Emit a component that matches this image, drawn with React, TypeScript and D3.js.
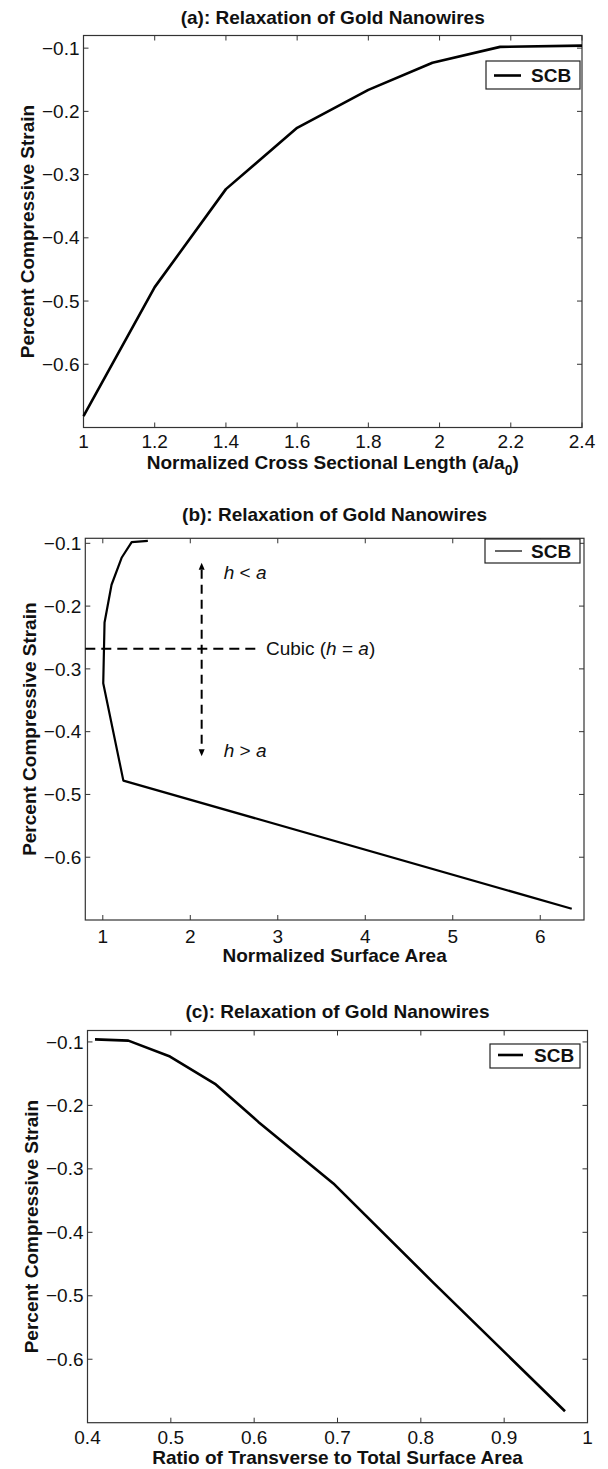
import React from 'react';
import * as d3 from 'd3';

// one SCB series, plotted against three different x quantities
const crossSection = [1, 1.2, 1.4, 1.6, 1.8, 1.98, 2.17, 2.4];
const strain = [-0.682, -0.478, -0.323, -0.226, -0.166, -0.123, -0.098, -0.096];
const surfaceArea = [6.36, 1.235, 1.005, 1.02, 1.1, 1.215, 1.33, 1.515];
const transverseRatio = [0.973, 0.814, 0.695, 0.605, 0.553, 0.499, 0.449, 0.409];

const ticksA = [1, 1.2, 1.4, 1.6, 1.8, 2, 2.2, 2.4];
const ticksB = [1, 2, 3, 4, 5, 6];
const ticksC = [0.4, 0.5, 0.6, 0.7, 0.8, 0.9, 1];
const strainTicks = [-0.6, -0.5, -0.4, -0.3, -0.2, -0.1];

// panel (b) annotations, in data units
const cubicStrain = -0.268;
const cubicEnd = 2.75;
const arrowX = 2.13;
const arrowTop = -0.131;
const arrowBottom = -0.439;

const FONT = '"Liberation Sans", Arial, Helvetica, sans-serif';
const FS = 19;

const fmt = (v: number) => String(+v.toFixed(2)).replace('-', '\u2212');

type Box = { left: number; right: number; top: number; bottom: number };
type Legend = { x: number; y: number; w: number; h: number; ly: number; lx0: number; lx1: number; tx: number; lw: number };

type PanelProps = {
  box: Box;
  title: string;
  titleY: number;
  xLabel: React.ReactNode;
  xLabelDy: number;
  xTickDy: number;
  yLabelX: number;
  xDomain: [number, number];
  yDomain: [number, number];
  xTicks: number[];
  xs: number[];
  ys: number[];
  lineWidth: number;
  legend: Legend;
  extra?: (x: d3.ScaleLinear<number, number>, y: d3.ScaleLinear<number, number>) => React.ReactNode;
};

function Panel(p: PanelProps) {
  const { box } = p;
  const x = d3.scaleLinear().domain(p.xDomain).range([box.left, box.right]);
  const y = d3.scaleLinear().domain(p.yDomain).range([box.bottom, box.top]);
  const line = d3.line<number>()
    .x((_, i) => x(p.xs[i]))
    .y(d => y(d));
  const tl = 5;
  const axisColor = '#333';
  const cx = (box.left + box.right) / 2;
  const cy = (box.top + box.bottom) / 2;
  const lg = p.legend;

  return (
    <g fontFamily={FONT} fontSize={FS} fill="#111">
      <text x={cx} y={p.titleY} dy="0.35em" textAnchor="middle" fontWeight="bold">{p.title}</text>

      {p.xTicks.map(t => (
        <g key={'x' + t} stroke={axisColor} strokeWidth={1}>
          <line x1={x(t)} x2={x(t)} y1={box.bottom} y2={box.bottom - tl} />
          <line x1={x(t)} x2={x(t)} y1={box.top} y2={box.top + tl} />
        </g>
      ))}
      {strainTicks.map(t => (
        <g key={'y' + t} stroke={axisColor} strokeWidth={1}>
          <line x1={box.left} x2={box.left + tl} y1={y(t)} y2={y(t)} />
          <line x1={box.right} x2={box.right - tl} y1={y(t)} y2={y(t)} />
        </g>
      ))}
      <rect x={box.left} y={box.top} width={box.right - box.left} height={box.bottom - box.top}
        fill="none" stroke={axisColor} strokeWidth={1.2} />

      {p.xTicks.map(t => (
        <text key={'xl' + t} x={x(t)} y={box.bottom + p.xTickDy} dy="0.35em" textAnchor="middle">{fmt(t)}</text>
      ))}
      {strainTicks.map(t => (
        <text key={'yl' + t} x={box.left - 4} y={y(t)} dy="0.35em" textAnchor="end">{fmt(t)}</text>
      ))}

      <text x={cx} y={box.bottom + p.xLabelDy} dy="0.35em" textAnchor="middle" fontWeight="bold">{p.xLabel}</text>
      <text transform={`translate(${p.yLabelX},${cy}) rotate(-90)`} dy="0.35em" textAnchor="middle" fontWeight="bold">
        Percent Compressive Strain
      </text>

      {p.extra && p.extra(x, y)}

      <path d={line(p.ys) || ''} fill="none" stroke="#000" strokeWidth={p.lineWidth} strokeLinejoin="round" />

      <rect x={lg.x} y={lg.y} width={lg.w} height={lg.h} fill="#fff" stroke="#222" strokeWidth={1.2} />
      <line x1={lg.lx0} x2={lg.lx1} y1={lg.ly} y2={lg.ly} stroke="#000" strokeWidth={lg.lw} />
      <text x={lg.tx} y={lg.ly} dy="0.35em" fontWeight="bold">SCB</text>
    </g>
  );
}

function cubicAnnotations(x: d3.ScaleLinear<number, number>, y: d3.ScaleLinear<number, number>) {
  const ax = x(arrowX);
  const yTop = y(arrowTop);
  const yBot = y(arrowBottom);
  const yc = y(cubicStrain);
  const ah = 7;
  const aw = 3;
  return (
    <g>
      <line x1={x.range()[0]} x2={x(cubicEnd)} y1={yc} y2={yc} stroke="#000" strokeWidth={2} strokeDasharray="10,6" />
      <line x1={ax} x2={ax} y1={yTop + ah} y2={yBot - ah} stroke="#000" strokeWidth={2} strokeDasharray="9,6" />
      <path d={`M${ax},${yTop} L${ax - aw},${yTop + ah} L${ax + aw},${yTop + ah} Z`} fill="#000" />
      <path d={`M${ax},${yBot} L${ax - aw},${yBot - ah} L${ax + aw},${yBot - ah} Z`} fill="#000" />
      <text x={ax + 22} y={y(-0.146)} dy="0.35em">
        <tspan fontStyle="italic">h</tspan> &lt; <tspan fontStyle="italic">a</tspan>
      </text>
      <text x={ax + 22} y={y(-0.43)} dy="0.35em">
        <tspan fontStyle="italic">h</tspan> &gt; <tspan fontStyle="italic">a</tspan>
      </text>
      <text x={x(cubicEnd) + 10} y={yc} dy="0.35em">
        Cubic (<tspan fontStyle="italic">h</tspan> = <tspan fontStyle="italic">a</tspan>)
      </text>
    </g>
  );
}

export default function App() {
  return (
    <svg width={608} height={1469} style={{ position: 'absolute', left: 0, top: 0, background: '#fff' }}>
      <Panel
        box={{ left: 83.5, right: 582, top: 35.5, bottom: 427.5 }}
        title="(a):  Relaxation of Gold Nanowires"
        titleY={17.5}
        xLabel={<>
          <tspan>Normalized Cross Sectional Length (a/a</tspan>
          <tspan dy={6} fontSize={14}>0</tspan>
          <tspan dy={-6}>)</tspan>
        </>}
        xLabelDy={35}
        xTickDy={14}
        yLabelX={27}
        xDomain={[1, 2.4]}
        yDomain={[-0.7, -0.08]}
        xTicks={ticksA}
        xs={crossSection}
        ys={strain}
        lineWidth={2.6}
        legend={{ x: 486, y: 61, w: 94, h: 28, ly: 75.5, lx0: 494, lx1: 521, tx: 531, lw: 2.6 }}
      />
      <Panel
        box={{ left: 85.3, right: 584, top: 538.3, bottom: 920 }}
        title="(b):  Relaxation of Gold Nanowires"
        titleY={514}
        xLabel="Normalized Surface Area"
        xLabelDy={35.5}
        xTickDy={16.7}
        yLabelX={29}
        xDomain={[0.8, 6.5]}
        yDomain={[-0.7, -0.092]}
        xTicks={ticksB}
        xs={surfaceArea}
        ys={strain}
        lineWidth={2.2}
        legend={{ x: 485, y: 539, w: 95, h: 24, ly: 551, lx0: 495, lx1: 522, tx: 531, lw: 1.2 }}
        extra={cubicAnnotations}
      />
      <Panel
        box={{ left: 87.5, right: 587.5, top: 1030.5, bottom: 1422.7 }}
        title="(c):  Relaxation of Gold Nanowires"
        titleY={1011.7}
        xLabel="Ratio of Transverse to Total Surface Area"
        xLabelDy={35}
        xTickDy={15}
        yLabelX={31}
        xDomain={[0.4, 1]}
        yDomain={[-0.7, -0.082]}
        xTicks={ticksC}
        xs={transverseRatio}
        ys={strain}
        lineWidth={2.6}
        legend={{ x: 490, y: 1044, w: 90, h: 24, ly: 1055, lx0: 498, lx1: 523, tx: 534, lw: 2.6 }}
      />
    </svg>
  );
}
